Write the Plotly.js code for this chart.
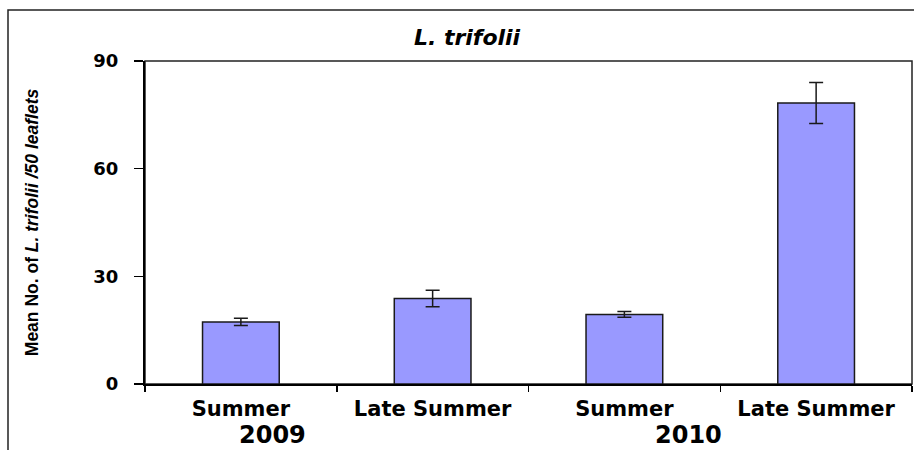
<!DOCTYPE html>
<html>
<head>
<meta charset="utf-8">
<script src="https://cdn.plot.ly/plotly-3.0.1.min.js"></script>
<style>html,body{margin:0;padding:0;background:#fff}#chart{width:914px;height:450px}</style>
</head>
<body>
<div id="chart"></div>
<script>
const categories = ["Summer 2009", "Late Summer 2009", "Summer 2010", "Late Summer 2010"];
const seasonLabels = ["Summer", "Late Summer", "Summer", "Late Summer"];
const yearLabels = ["2009", "2010"];
const meanValues = [17.3, 23.8, 19.4, 78.3];
const errorValues = [1.0, 2.3, 0.8, 5.7];
const yTicks = [0, 30, 60, 90];

const tickFont = {family: "DejaVu Sans, Arial, sans-serif", size: 18, color: "#000", weight: "bold"};

const trace = {
  type: "bar",
  x: categories,
  y: meanValues,
  width: 0.4,
  marker: {color: "#9999ff", line: {color: "#1a1a1a", width: 1.5}},
  error_y: {type: "data", array: errorValues, visible: true, color: "#1a1a1a", thickness: 1.5, width: 7},
  hoverinfo: "skip"
};

const layout = {
  width: 914, height: 450,
  margin: {l: 145, r: 2, t: 61, b: 66},
  paper_bgcolor: "#fff", plot_bgcolor: "#fff",
  showlegend: false,
  title: {
    text: "L. trifolii",
    font: {family: "DejaVu Sans, Arial, sans-serif", size: 22, color: "#000", weight: "bold", style: "italic"},
    xref: "container", yref: "container", x: 0.511, y: 1 - 37/450, xanchor: "center", yanchor: "middle"
  },
  xaxis: {
    type: "category",
    tickmode: "array", tickvals: categories, ticktext: seasonLabels,
    tickson: "boundaries",
    ticks: "outside", ticklen: 6, tickwidth: 1.5, tickcolor: "#000",
    showline: true, linecolor: "#000", linewidth: 2,
    showgrid: false, zeroline: false,
    tickfont: {family: "DejaVu Sans, Arial, sans-serif", size: 21, color: "#000", weight: "bold"},
    ticklabelstandoff: 5,
    range: [-0.5, 3.5], fixedrange: true
  },
  yaxis: {
    range: [0, 90],
    tickmode: "array", tickvals: yTicks,
    ticks: "outside", ticklen: 9, tickwidth: 1.5, tickcolor: "#000",
    showline: true, linecolor: "#000", linewidth: 2,
    showgrid: false, zeroline: false,
    tickfont: tickFont,
    ticklabelstandoff: 12,
    title: {
      text: "Mean No. of <i>L. trifolii /50 leaflets</i>",
      font: {family: "Liberation Sans Narrow, Arial Narrow, Liberation Sans, sans-serif", size: 17.5, color: "#000", weight: "bold"},
      standoff: 50
    },
    automargin: false,
    fixedrange: true
  },
  shapes: [
    {type: "rect", xref: "paper", yref: "paper", x0: 0, x1: 1, y0: 0, y1: 1, line: {color: "#222", width: 1.5}, layer: "below"},
    {type: "rect", xref: "paper", yref: "paper", x0: (8-145)/767, x1: 1.05, y0: -0.3, y1: (384-10)/323, line: {color: "#222", width: 1.5}, layer: "below"}
  ],
  annotations: [
    {text: yearLabels[0], xref: "paper", yref: "paper", x: (272-145)/767, y: (384-435)/323, xanchor: "center", yanchor: "middle", showarrow: false,
     font: {family: "DejaVu Sans, Arial, sans-serif", size: 24, color: "#000", weight: "bold"}},
    {text: yearLabels[1], xref: "paper", yref: "paper", x: (688-145)/767, y: (384-435)/323, xanchor: "center", yanchor: "middle", showarrow: false,
     font: {family: "DejaVu Sans, Arial, sans-serif", size: 24, color: "#000", weight: "bold"}}
  ]
};

Plotly.newPlot("chart", [trace], layout, {displayModeBar: false, staticPlot: true});
</script>
</body>
</html>
